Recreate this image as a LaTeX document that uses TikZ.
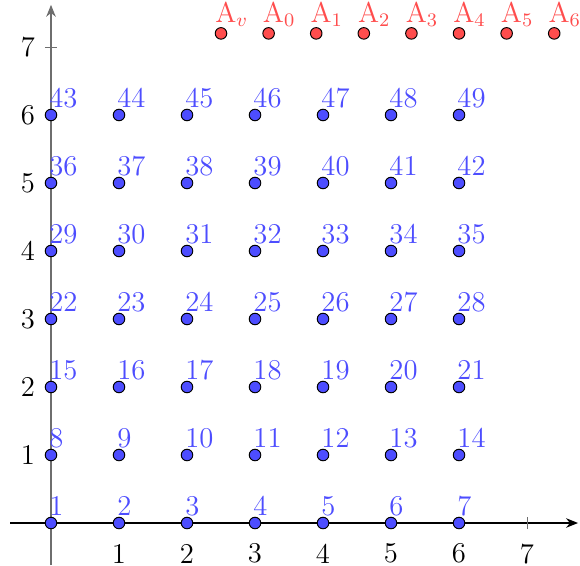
\documentclass[tikz,border=0pt]{standalone}
\usetikzlibrary{arrows.meta}
\definecolor{ptblue}{RGB}{77,77,255}
\definecolor{ptred}{RGB}{255,77,77}
\definecolor{axgray}{RGB}{110,110,110}
\begin{document}
\begin{tikzpicture}[x=1cm,y=1cm,
  bluept/.style={circle,draw=black,fill=ptblue,line width=0.4pt,inner sep=0pt,minimum size=0.17cm},
  redpt/.style={circle,draw=black,fill=ptred,line width=0.4pt,inner sep=0pt,minimum size=0.17cm},
  bluelbl/.style={anchor=south west,inner sep=0pt,text=ptblue,font=\large},
  redlbl/.style={anchor=south west,inner sep=0pt,text=ptred,font=\large},
  ticklbl/.style={font=\large,inner sep=0pt},
  tickmark/.style={axgray,line width=0.4pt}]
\useasboundingbox (-0.75,-0.632) rectangle (7.779,7.691);
% axes
\coordinate (xs) at (-0.6,0);
\coordinate (xe) at (7.75,0);
\coordinate (ys) at (0,-0.62);
\coordinate (ye) at (0,7.62);
\draw[black,line width=0.5pt,-{Stealth[length=5pt,width=4pt]}] (xs) -- (xe);
\draw[axgray,line width=0.7pt,-{Stealth[length=5pt,width=4pt]}] (ys) -- (ye);
\foreach \i in {1,...,7}{
  \draw[tickmark] (\i,-0.09) -- (\i,0.09);
  \draw[tickmark] (-0.09,\i) -- (0.09,\i);
  \node[ticklbl] (xl\i) at (\i,-0.45) {\i};
  \node[ticklbl] (yl\i) at (-0.34,\i) {\i};
}
% blue grid points
\foreach \j in {0,...,6}{
  \foreach \i in {0,...,6}{
    \pgfmathtruncatemacro{\n}{7*\j+\i+1}
    \node[bluept] (p\n) at (\i,\j) {};
    \node[bluelbl] (l\n) at ([xshift=-0.03cm,yshift=0.1cm]p\n.center) {\n};
  }
}
% red points
\foreach \k/\s in {0/v,1/0,2/1,3/2,4/3,5/4,6/5,7/6}{
  \node[redpt] (a\k) at ({2.5+0.7*\k},7.2) {};
  \node[redlbl] (al\k) at ([xshift=-0.09cm,yshift=0.09cm]a\k.center) {A$_\s$};
}
\end{tikzpicture}
\end{document}
